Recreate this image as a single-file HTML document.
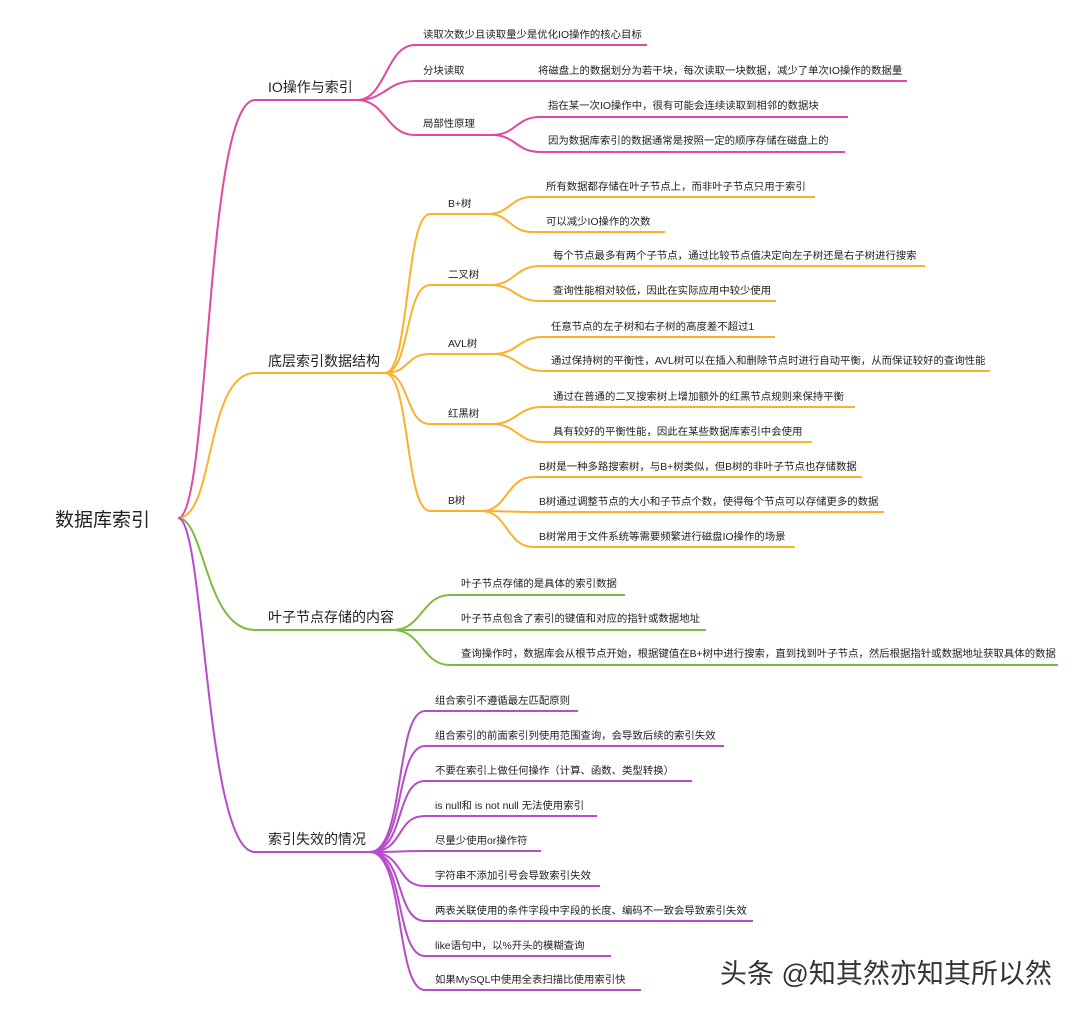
<!DOCTYPE html>
<html><head><meta charset="utf-8"><style>
html,body{margin:0;padding:0;background:#fff}
svg{display:block}
text{font-family:"Liberation Sans","Noto Sans CJK SC",sans-serif;fill:#222}
.l{font-size:10.4px}
.m{font-size:14px}
path{fill:none;stroke-width:2}
.p path{stroke:#dd4aa0}
.o path{stroke:#fbb12e}
.g path{stroke:#7dbb3f}
.v path{stroke:#b74ccb}
</style></head><body>
<svg width="1080" height="1015" viewBox="0 0 1080 1015">
<text x="55" y="526" style="font-size:19px">数据库索引</text>

<g class="p">
<path d="M178 518 C210 518 205 100 255 100 L357 100"/>
<path d="M357 100 C386 100 386 45 415 45 L647 45"/>
<path d="M357 100 C386 100 386 81 415 81 L907 81"/>
<path d="M357 100 C386 100 386 135 415 135 L492 135"/>
<path d="M492 135 C516 135 516 117 540 117 L848 117"/>
<path d="M492 135 C516 135 516 152 540 152 L845 152"/>
</g>
<text class="m" x="268" y="92">IO操作与索引</text>
<text class="l" x="423" y="38">读取次数少且读取量少是优化IO操作的核心目标</text>
<text class="l" x="423" y="74">分块读取</text>
<text class="l" x="538" y="74">将磁盘上的数据划分为若干块，每次读取一块数据，减少了单次IO操作的数据量</text>
<text class="l" x="423" y="127">局部性原理</text>
<text class="l" x="548" y="109">指在某一次IO操作中，很有可能会连续读取到相邻的数据块</text>
<text class="l" x="548" y="144">因为数据库索引的数据通常是按照一定的顺序存储在磁盘上的</text>

<g class="o">
<path d="M178 518 C215 518 205 373 255 373 L385 373"/>
<path d="M385 373 C410 373 405 214 430 214 L488 214"/>
<path d="M385 373 C410 373 405 285 430 285 L490 285"/>
<path d="M385 373 C410 373 405 354 430 354 L493 354"/>
<path d="M385 373 C410 373 405 424 430 424 L492 424"/>
<path d="M385 373 C410 373 405 511 430 511 L482 511"/>
<path d="M488 214 C510 214 510 197 532 197 L815 197"/>
<path d="M488 214 C510 214 510 232 532 232 L665 232"/>
<path d="M490 285 C515 285 515 266 540 266 L925 266"/>
<path d="M490 285 C515 285 515 301 540 301 L776 301"/>
<path d="M493 354 C518 354 518 337 543 337 L775 337"/>
<path d="M493 354 C518 354 518 371 543 371 L990 371"/>
<path d="M492 424 C517 424 517 407 542 407 L855 407"/>
<path d="M492 424 C517 424 517 442 542 442 L812 442"/>
<path d="M482 511 C507 511 507 477 533 477 L862 477"/>
<path d="M482 511 C507 511 507 512 533 512 L884 512"/>
<path d="M482 511 C507 511 507 547 533 547 L795 547"/>
</g>
<text class="m" x="268" y="366">底层索引数据结构</text>
<text class="l" x="448" y="207">B+树</text>
<text class="l" x="448" y="278">二叉树</text>
<text class="l" x="448" y="347">AVL树</text>
<text class="l" x="448" y="417">红黑树</text>
<text class="l" x="448" y="504">B树</text>
<text class="l" x="546" y="190">所有数据都存储在叶子节点上，而非叶子节点只用于索引</text>
<text class="l" x="546" y="225">可以减少IO操作的次数</text>
<text class="l" x="553" y="259">每个节点最多有两个子节点，通过比较节点值决定向左子树还是右子树进行搜索</text>
<text class="l" x="553" y="294">查询性能相对较低，因此在实际应用中较少使用</text>
<text class="l" x="551" y="330">任意节点的左子树和右子树的高度差不超过1</text>
<text class="l" x="551" y="364">通过保持树的平衡性，AVL树可以在插入和删除节点时进行自动平衡，从而保证较好的查询性能</text>
<text class="l" x="553" y="400">通过在普通的二叉搜索树上增加额外的红黑节点规则来保持平衡</text>
<text class="l" x="553" y="435">具有较好的平衡性能，因此在某些数据库索引中会使用</text>
<text class="l" x="539" y="470">B树是一种多路搜索树，与B+树类似，但B树的非叶子节点也存储数据</text>
<text class="l" x="539" y="505">B树通过调整节点的大小和子节点个数，使得每个节点可以存储更多的数据</text>
<text class="l" x="539" y="540">B树常用于文件系统等需要频繁进行磁盘IO操作的场景</text>

<g class="g">
<path d="M178 518 C205 518 205 630 255 630 L393 630"/>
<path d="M393 630 C422 630 422 595 450 595 L625 595"/>
<path d="M393 630 C422 630 422 630 450 630 L706 630"/>
<path d="M393 630 C422 630 422 665 450 665 L1058 665"/>
</g>
<text class="m" x="268" y="622">叶子节点存储的内容</text>
<text class="l" x="461" y="587">叶子节点存储的是具体的索引数据</text>
<text class="l" x="461" y="622">叶子节点包含了索引的键值和对应的指针或数据地址</text>
<text class="l" x="461" y="657">查询操作时，数据库会从根节点开始，根据键值在B+树中进行搜索，直到找到叶子节点，然后根据指针或数据地址获取具体的数据</text>

<g class="v">
<path d="M178 518 C205 518 205 852 255 852 L370 852"/>
<path d="M370 852 C405 852 395 711 425 711 L578 711"/>
<path d="M370 852 C405 852 395 746 425 746 L724 746"/>
<path d="M370 852 C405 852 395 781 425 781 L692 781"/>
<path d="M370 852 C405 852 395 816 425 816 L597 816"/>
<path d="M370 852 C405 852 395 851 425 851 L541 851"/>
<path d="M370 852 C405 852 395 886 425 886 L600 886"/>
<path d="M370 852 C405 852 395 921 425 921 L753 921"/>
<path d="M370 852 C405 852 395 956 425 956 L611 956"/>
<path d="M370 852 C405 852 395 990 425 990 L641 990"/>
</g>
<text class="m" x="268" y="844">索引失效的情况</text>
<text class="l" x="435" y="704">组合索引不遵循最左匹配原则</text>
<text class="l" x="435" y="739">组合索引的前面索引列使用范围查询，会导致后续的索引失效</text>
<text class="l" x="435" y="774">不要在索引上做任何操作（计算、函数、类型转换）</text>
<text class="l" x="435" y="809">is null和 is not null 无法使用索引</text>
<text class="l" x="435" y="844">尽量少使用or操作符</text>
<text class="l" x="435" y="879">字符串不添加引号会导致索引失效</text>
<text class="l" x="435" y="914">两表关联使用的条件字段中字段的长度、编码不一致会导致索引失效</text>
<text class="l" x="435" y="949">like语句中，以%开头的模糊查询</text>
<text class="l" x="435" y="983">如果MySQL中使用全表扫描比使用索引快</text>

<text x="720" y="983" style="font-size:27px;fill:#333">头条 @知其然亦知其所以然</text>
</svg>
</body></html>
